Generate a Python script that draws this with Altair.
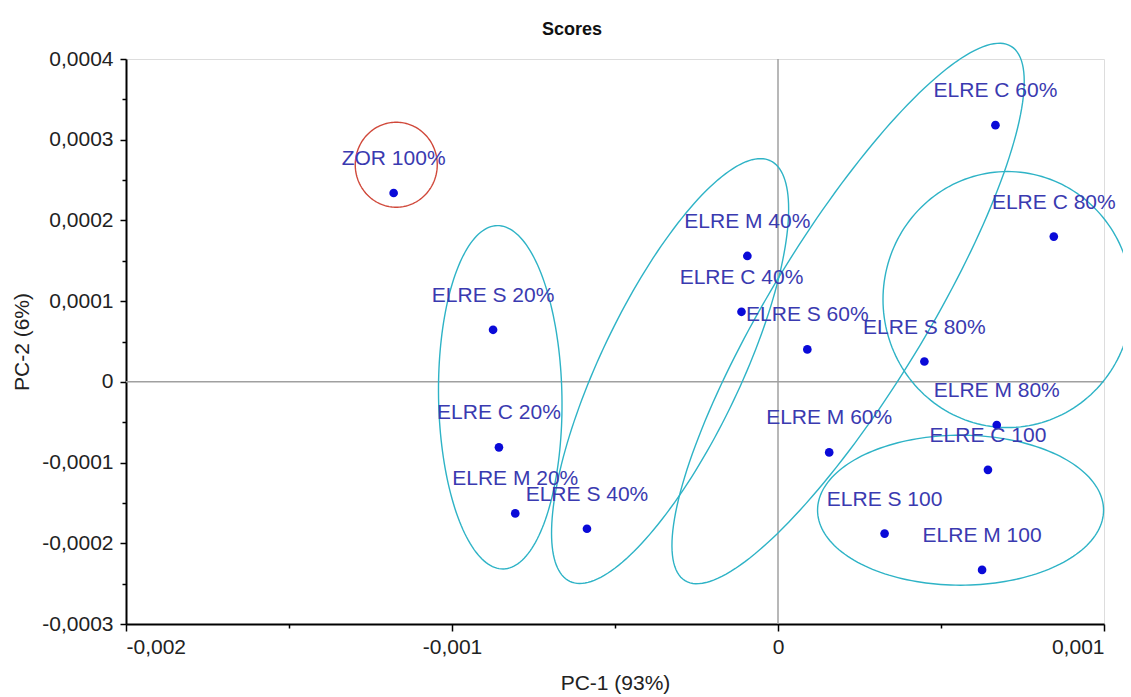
import numpy as np
import pandas as pd
import altair as alt

# ---------------- data ----------------
names = ["ZOR 100%", "ELRE S 20%", "ELRE C 20%", "ELRE M 20%", "ELRE S 40%",
         "ELRE M 40%", "ELRE C 40%", "ELRE S 60%", "ELRE C 60%", "ELRE C 80%",
         "ELRE S 80%", "ELRE M 80%", "ELRE C 100", "ELRE M 60%", "ELRE S 100",
         "ELRE M 100"]
pc1 = [-0.001179, -0.000874, -0.000856, -0.000806, -0.000586,
       -0.000094, -0.000112, 0.000090, 0.000667, 0.000846,
       0.000449, 0.000671, 0.000644, 0.000157, 0.000327,
       0.000626]
pc2 = [0.000234, 0.0000645, -0.0000811, -0.000163, -0.000182,
       0.000156, 0.0000868, 0.0000402, 0.000318, 0.000180,
       0.0000252, -0.0000534, -0.000109, -0.0000874, -0.000188,
       -0.000233]

# confidence ellipses: centre (data units), semi-axes (px), rotation (deg)
ell_group = ["zor", "g20", "g40", "g60", "g80", "g100"]
ell_cx = [-0.001171, -0.000852, -0.000331, 0.000215, 0.000704, 0.000560]
ell_cy = [0.000269, -0.0000191, 0.0000134, 0.0000847, 0.000102, -0.000159]
ell_a = [41, 171.7, 233, 313, 124.5, 143]
ell_b = [42.5, 61.7, 70, 78, 128, 75]
ell_ang = [0, 91, 64.5, 58.6, 0, 0]
ell_kind = ["red", "cyan", "cyan", "cyan", "cyan", "cyan"]

x_ticks = [-0.002, -0.0015, -0.001, -0.0005, 0, 0.0005, 0.001]
x_major = [-0.002, -0.001, 0, 0.001]
y_ticks = [-0.0003, -0.00025, -0.0002, -0.00015, -0.0001, -0.00005, 0,
           0.00005, 0.0001, 0.00015, 0.0002, 0.00025, 0.0003, 0.00035, 0.0004]
y_major = [-0.0003, -0.0002, -0.0001, 0, 0.0001, 0.0002, 0.0003, 0.0004]

X_DOM = [-0.002, 0.001]
Y_DOM = [-0.0003, 0.0004]
W, H = 978, 565

# ---------------- build tables ----------------
pts = pd.DataFrame({"kind": "pt", "name": names, "x": pc1, "y": pc2, "grp": "", "i": 0})

xpp = (X_DOM[1] - X_DOM[0]) / W
ypp = (Y_DOM[1] - Y_DOM[0]) / H
rows = []
t = np.linspace(0, 2 * np.pi, 181)
for g, cx, cy, a, b, ang, k in zip(ell_group, ell_cx, ell_cy, ell_a, ell_b, ell_ang, ell_kind):
    th = np.deg2rad(ang)
    dx = a * np.cos(t) * np.cos(th) - b * np.sin(t) * np.sin(th)
    dy = a * np.cos(t) * np.sin(th) + b * np.sin(t) * np.cos(th)
    for j in range(len(t)):
        rows.append({"kind": k, "name": "", "x": cx + dx[j] * xpp, "y": cy + dy[j] * ypp,
                     "grp": g, "i": j})
ell = pd.DataFrame(rows)
zero = pd.DataFrame([{"kind": "zero", "name": "", "x": 0.0, "y": 0.0, "grp": "", "i": 0}])
df = pd.concat([pts, ell, zero], ignore_index=True)

FONT = "Liberation Sans"
xm = "[" + ",".join(str(v) for v in x_major) + "]"
ym = "[" + ",".join(str(v) for v in y_major) + "]"

x_axis = alt.Axis(
    values=x_ticks, grid=False, title="PC-1 (93%)",
    labelExpr=f"indexof({xm}, datum.value) >= 0 ? replace(datum.value + '', '.', ',') : ''",
    tickSize={"condition": {"test": f"indexof({xm}, datum.value) >= 0", "value": 7}, "value": 4},
    domainColor="black", domainWidth=2, tickColor="black", tickWidth=1.5,
    labelFont=FONT, labelFontSize=21, labelColor="#222222", labelPadding=5,
    titleFont=FONT, titleFontSize=21, titleFontWeight="normal", titleColor="#222222",
    titlePadding=15,
)
y_axis = alt.Axis(
    values=y_ticks, grid=False, title="PC-2 (6%)",
    labelExpr=f"indexof({ym}, datum.value) >= 0 ? replace(datum.value + '', '.', ',') : ''",
    tickSize={"condition": {"test": f"indexof({ym}, datum.value) >= 0", "value": 6}, "value": 4},
    domainColor="black", domainWidth=2, tickColor="black", tickWidth=1.5,
    labelFont=FONT, labelFontSize=21, labelColor="#222222", labelPadding=7,
    titleFont=FONT, titleFontSize=21, titleFontWeight="normal", titleColor="#222222",
    titlePadding=9,
)
xs = alt.Scale(domain=X_DOM, nice=False, zero=False)
ys = alt.Scale(domain=Y_DOM, nice=False, zero=False)
X = alt.X("x:Q", scale=xs, axis=x_axis)
Y = alt.Y("y:Q", scale=ys, axis=y_axis)

base = alt.Chart(df)

vline = base.transform_filter("datum.kind == 'zero'").mark_rule(
    color="#a0a0a0", strokeWidth=1.5).encode(x=X)
hline = base.transform_filter("datum.kind == 'zero'").mark_rule(
    color="#a0a0a0", strokeWidth=1.5).encode(y=Y)

ellipses = base.transform_filter("datum.kind == 'cyan' || datum.kind == 'red'").mark_line(
    strokeWidth=1.4).encode(
    x=X, y=Y, detail="grp:N", order="i:Q",
    color=alt.Color("kind:N", scale=alt.Scale(domain=["red", "cyan"], range=["#d0483a", "#2eb3c6"]),
                    legend=None),
)

points = base.transform_filter("datum.kind == 'pt'").mark_circle(
    size=75, color="#0a0ad8", opacity=1).encode(x=X, y=Y)

labels = base.transform_filter("datum.kind == 'pt'").mark_text(
    dy=-34, fontSize=21, font=FONT, color="#3a3ab0", align="center", baseline="middle"
).encode(x=X, y=Y, text="name:N")

chart = alt.layer(vline, hline, ellipses, points, labels).properties(
    width=W, height=H,
    title=alt.TitleParams("Scores", font=FONT, fontSize=18, fontWeight="bold",
                          color="#111111", dx=-43, offset=1),
    autosize=alt.AutoSizeParams(type="none"),
    padding={"left": 118, "top": 51, "right": 19, "bottom": 72},
).configure_view(stroke=None).configure(background="white")

chart.save("out.html", embed_options={"renderer": "svg", "actions": False})
